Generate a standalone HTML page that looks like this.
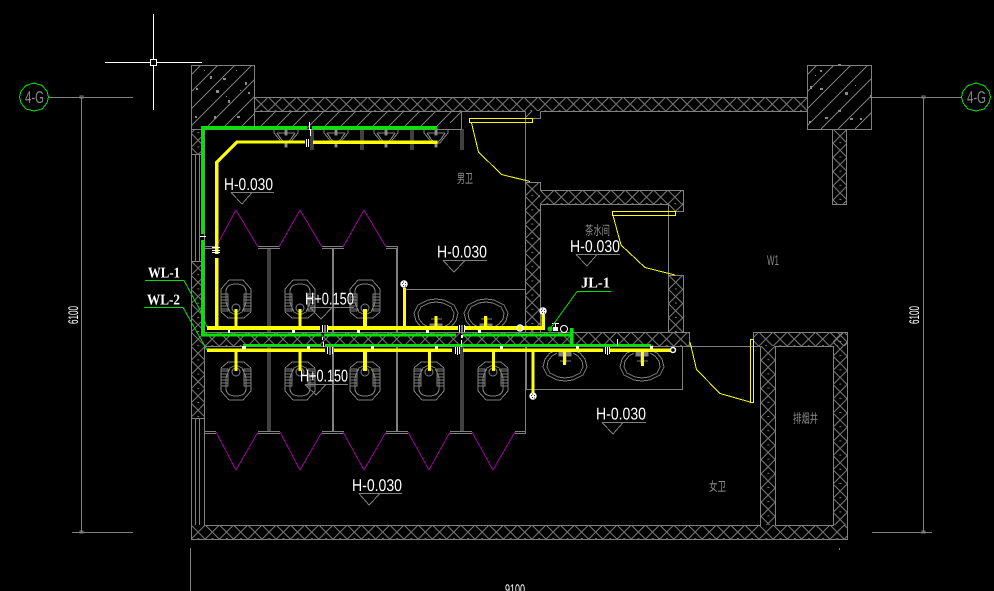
<!DOCTYPE html>
<html><head><meta charset="utf-8">
<style>
html,body{margin:0;padding:0;background:#000;width:994px;height:591px;overflow:hidden}
svg{display:block}
text{font-family:"Liberation Sans","Noto Sans CJK SC",sans-serif}
.w{fill:#fff;font-size:17px}
.b{fill:#fff;font-size:15px;font-weight:bold;font-family:"Liberation Serif","Noto Sans CJK SC",serif}
.c{fill:#8a8a8a;font-size:13px}
.g{stroke:#808080;fill:none;stroke-width:1}
.h{stroke:#7a7a7a;fill:none;stroke-width:1}
</style></head><body>
<svg width="994" height="591" viewBox="0 0 994 591" xmlns="http://www.w3.org/2000/svg" shape-rendering="crispEdges">
<defs>
<pattern id="x" width="14.2" height="14.2" patternUnits="userSpaceOnUse"><path class="h" d="M0 0L14.2 14.2M14.2 0L0 14.2"/><rect x="6.500" y="13" width="2" height="1.500" fill="#808080"/></pattern>
<pattern id="xa" href="#x" patternTransform="translate(254 97)"/>
<pattern id="xb" href="#x" patternTransform="translate(205 332)"/>
<pattern id="xc" href="#x" patternTransform="translate(191 525)"/>
<pattern id="xd" href="#x" patternTransform="translate(540 190)"/>
<pattern id="xe" href="#x" patternTransform="translate(191 261)"/>
<pattern id="xf" href="#x" patternTransform="translate(525 182)"/>
<pattern id="xg" href="#x" patternTransform="translate(668.5 190)"/>
<pattern id="xh" href="#x" patternTransform="translate(761 346)"/>
<pattern id="xi" href="#x" patternTransform="translate(833 129)"/>
<clipPath id="cl"><rect x="191" y="65" width="64" height="64"/></clipPath>
<clipPath id="cr"><rect x="807" y="65" width="65" height="64"/></clipPath>

<g id="pan" class="g">
<path d="M-7 -28L7 -28L15 -19L15 -14M-7 -28L-15 -19L-15 -14M15 4L8 10L-8 10L-15 4"/>
<path d="M-10 -5L-10 -16Q-10 -24 0 -24Q10 -24 10 -16L10 -5M-10 -5L-6 4L0 7L6 4L10 -5"/>
<path d="M-15 -14H-8V3H-15ZM8 -14H15V3H8ZM-15 -11H-8M-15 -8H-8M-15 -5H-8M-15 -2H-8M-15 1H-8M8 -11H15M8 -8H15M8 -5H15M8 -2H15M8 1H15"/>
<circle cx="0" cy="0" r="4" shape-rendering="auto"/>
</g>
<g id="sink" class="g">
<path d="M-8 0L-15 -3L-20 -9L-22 -17L-18 -25L-8 -30L0 -31L8 -30L18 -25L22 -17L20 -9L15 -3L8 0"/>
<path d="M-8 -3L-13 -6L-17 -11L-18 -17L-15 -23L-7 -27L0 -28L7 -27L15 -23L18 -17L17 -11L13 -6L8 -3"/>
<path d="M-6 -6H6V-1H-6Z" fill="#808080"/><path d="M-1 -13H1V-6H-1Z" fill="#808080"/><path d="M-5 -11H6"/>
</g>
<g id="usm" class="g">
<path d="M-12 0L-12 3L-7 9L-4 13L4 13L7 9L12 3L12 0M-9 3L-5 9L-2 12L2 12L5 9L9 3M-9 3H9"/>
<path d="M-1 -2H1V5H-1Z" fill="#999"/>
<rect x="-1" y="14" width="2" height="3" fill="#aaa"/>
</g>
<g id="ball"><circle r="3.7" fill="#fff" shape-rendering="auto"/><path d="M-2 -1h1v1h-1zM1 -1h1v1h-1zM-1 1h1v1h-1zM1 1.500h1v1h-1zM-1 -2.500h1v1h-1z" fill="#333"/></g>
</defs>

<rect width="994" height="591" fill="#000"/>

<!-- hatched walls -->
<rect x="254" y="97" width="553" height="14" fill="url(#xa)"/>
<rect x="205" y="332" width="485" height="14" fill="url(#xb)"/>
<rect x="191" y="525" width="656" height="14" fill="url(#xc)"/>
<rect x="753" y="332" width="94" height="14" fill="url(#xb)"/>
<rect x="540" y="190" width="143" height="14" fill="url(#xd)"/>
<rect x="191" y="129" width="14" height="25" fill="url(#xe)"/>
<rect x="191" y="261" width="14" height="157" fill="url(#xe)"/>
<rect x="525" y="182" width="15" height="150" fill="url(#xf)"/>
<rect x="668.500" y="204" width="14.500" height="7" fill="url(#xg)"/>
<rect x="668.500" y="275" width="14.500" height="57" fill="url(#xg)"/>
<rect x="761" y="346" width="14" height="179" fill="url(#xh)"/>
<rect x="833" y="332" width="14" height="193" fill="url(#xi)"/>
<rect x="833" y="129" width="14" height="75" fill="url(#xi)"/>
<!-- diagonal hatch -->
<path class="h" clip-path="url(#cl)" d="M137 129L201 65M154 129L218 65M171 129L235 65M188 129L252 65M205 129L269 65M222 129L286 65M239 129L303 65M256 129L320 65"/>
<path class="h" clip-path="url(#cr)" d="M753 129L817 65M770 129L834 65M787 129L851 65M804 129L868 65M821 129L885 65M838 129L902 65M855 129L919 65M872 129L936 65"/>
<path class="h" d="M258 129l18 -18M274 129l18 -18M290 129l18 -18M306 129l18 -18M322 129l18 -18M338 129l18 -18M354 129l18 -18M370 129l18 -18M386 129l18 -18M402 129l18 -18M418 129l18 -18M434 129l18 -18M450 123l12 -12M525 118l7 -7"/>
<path fill="#8a8a8a" d="M210 76h2v3h-2zM223 78h3v2h-3zM216 90h3v3h-3zM196 88h2v2h-2zM228 100h2v3h-2zM245 82h2v3h-2zM237 116h3v2h-3zM214 116h2v3h-2zM195 116h2v2h-2zM248 92h2v2h-2zM204 70h1v1h-1zM236 70h1v1h-1zM226 96h1v1h-1zM240 90h1v1h-1zM820 70h2v2h-2zM838 64h3v2h-3zM845 92h3v3h-3zM820 88h3v2h-3zM838 110h3v2h-3zM825 117h3v2h-3zM850 118h3v2h-3zM870 95h2v3h-2zM809 121h2v2h-2zM860 118h2v2h-2zM815 75h1v1h-1zM855 85h1v1h-1zM830 102h1v1h-1zM810 86h2v3h-2z"/>

<!-- wall outlines -->
<g class="g">
<path d="M191 65.500H254.500V129.500H191.500V65.500"/>
<path d="M807.500 65.500H871.500V129.500H807.500Z"/>
<path d="M254.500 97.500H807.500M254.500 111.500H525.500M540.500 111.500H807.500M525.500 118.500H540.500V111.500"/>
<path d="M204.500 129.500H461.500V111.500"/>
<path d="M191.500 129.500V539.500H847.500V332.500H753.500V346.500"/>
<path d="M195.500 154V261M199.500 154V261M204.500 129V332M191 154.500H204.500M191 261.500H204.500M191 418.500H204.500M195.500 418.500V525M199.500 418.500V525M204.500 346V525"/>
<path d="M204.500 525.500H760.500V346.500M775.500 346.500H833.500V525.500H775.500Z"/>
<path d="M525.500 111.500V332.500M525.500 182.500H540.500V190.500H683.500V211.500H668.500M540.500 204.500H668.500V332.500M540.500 204.500V332.500"/>
<path d="M668.500 275.500H683.500V332.500H689.500V346.500"/>
<path d="M205 332.500H690M205 346.500H760.500"/>
<path d="M525.500 346.500V389.500H682.500V346.500"/>
<path d="M832.500 129.500V204.500H846.500V129.500"/>
<path d="M404 289.500H525.500"/>
<!-- axes -->
<path d="M48 97.500H133M81.500 97.500V533M72 532.500H133M872 97.500H962M923.500 97.500V533M872 532.500H932M190.500 548V591M839.500 548V550"/>
<path d="M80 96h3v2h-3zM922 96h3v2h-3zM922 531h3v2h-3zM80 531h3v2h-3z"/>
</g>

<!-- partitions upper -->
<g class="g">
<path d="M204 246.500H216M204 248.500H216M258 246.500H280M258 248.500H280M322 246.500H344M322 248.500H344M386 246.500H398M386 248.500H396M397.500 246.500V332"/>
<path d="M268 248V332M270 248V332"/>
<path d="M333 248V332M397 248V332" stroke-width="2"/>
<!-- partitions lower -->
<path d="M268 346V432M270 346V432M461 346V432M463 346V432M525.500 389V433"/>
<path d="M333 346V432M397 346V432M526 346V389" stroke-width="2"/>
<path d="M205 431.500H216M205 433.500H216M258 431.500H280M258 433.500H280M322 431.500H344M322 433.500H344M386 431.500H408M386 433.500H408M450 431.500H472M450 433.500H472M515 431.500H526M515 433.500H526"/>
<!-- top stubs -->
<path d="M311 129V150M361 129V150M411 129V150M461 129V150M313 129V150M363 129V150M413 129V150M463 129V150"/>
</g>

<!-- purple -->
<path fill="none" stroke="#a000a0" stroke-width="1" d="M216 247L236 210L258 247M279 247L300 210L322 247M343 247L364 210L386 247M216 432L236 470L258 432M280 432L300 470L322 432M343 432L364 470L386 432M408 432L429 470L450 432M472 432L493 470L515 432"/>

<!-- fixtures -->
<use href="#pan" x="236" y="308"/><use href="#pan" x="300" y="308"/><use href="#pan" x="365" y="308"/>
<use href="#pan" transform="translate(236 372) scale(1 -1)"/><use href="#pan" transform="translate(300 372) scale(1 -1)"/><use href="#pan" transform="translate(365 372) scale(1 -1)"/><use href="#pan" transform="translate(429 372) scale(1 -1)"/><use href="#pan" transform="translate(493 372) scale(1 -1)"/>
<use href="#usm" x="286" y="130"/><use href="#usm" x="336" y="130"/><use href="#usm" x="386" y="130"/><use href="#usm" x="436" y="130"/>
<use href="#sink" x="436" y="330"/><use href="#sink" x="486" y="330"/>
<use href="#sink" transform="translate(565 350) scale(1 -1)"/><use href="#sink" transform="translate(642 350) scale(1 -1)"/>

<!-- green pipes -->
<g fill="#00e600">
<rect x="201" y="126" width="106" height="3.500"/><rect x="312" y="126" width="125" height="3.500"/>
<rect x="201" y="126" width="3.500" height="108"/><rect x="201" y="240" width="3.500" height="95"/>
<rect x="201" y="333.500" width="120" height="3"/><rect x="324" y="333.500" width="132" height="3"/><rect x="463" y="333.500" width="110" height="3"/>
<rect x="570" y="328" width="3.500" height="18"/>
<rect x="243" y="344" width="78" height="2.500"/><rect x="325" y="344" width="326" height="2.500"/>
</g>
<!-- yellow pipes -->
<g fill="#ffff00">
<path d="M215 254V162L236 140.500H305V143.500H237.500L218.500 163V254Z"/>
<rect x="313" y="140.500" width="124.500" height="3.500"/>
<rect x="215" y="258" width="3.500" height="70"/>
<rect x="207" y="326" width="113" height="4"/><rect x="328" y="326" width="130" height="4"/><rect x="464" y="326" width="81" height="4"/>
<rect x="207" y="348.500" width="118" height="3.500"/><rect x="334" y="348.500" width="118" height="3.500"/><rect x="463" y="348.500" width="140" height="3.500"/><rect x="610" y="348.500" width="61" height="3.500"/>
<rect x="234.500" y="309" width="3" height="18"/><rect x="298.500" y="309" width="3" height="18"/><rect x="363" y="309" width="4" height="18"/>
<rect x="403" y="288" width="3" height="39"/><rect x="541.500" y="314" width="3.500" height="14"/>
<rect x="434.500" y="316" width="3" height="11"/><rect x="484" y="316" width="3" height="11"/>
<rect x="234.500" y="351" width="3" height="20"/><rect x="298.500" y="351" width="3" height="20"/><rect x="363" y="351" width="4" height="20"/><rect x="428" y="351" width="3" height="20"/><rect x="492" y="351" width="3" height="20"/>
<rect x="531.500" y="351" width="3" height="42"/>
<rect x="563" y="352" width="3" height="13"/><rect x="641" y="352" width="3" height="14"/>
</g>

<!-- white marks -->
<g fill="#fff">
<rect x="228" y="330" width="2" height="3"/><rect x="292" y="330" width="3" height="3"/><rect x="357" y="330" width="3" height="3"/><rect x="426" y="330" width="3" height="3"/><rect x="478" y="330" width="3" height="3"/>
<rect x="242" y="346" width="4" height="3"/><rect x="307" y="346" width="3" height="3"/><rect x="371" y="346" width="3" height="3"/><rect x="435" y="346" width="3" height="3"/><rect x="500" y="346" width="3" height="3"/><rect x="576" y="346" width="3" height="3"/><rect x="650" y="346" width="3" height="3"/>
<path d="M322 325h1v7h-1zM324.500 325h1v7h-1zM327 325h1v7h-1zM459 325h1v7h-1zM461.500 325h1v7h-1zM464 325h1v7h-1zM327 347h1v7h-1zM329.500 347h1v8h-1zM332 347h1v7h-1zM455 347h1v7h-1zM457 347h1v8h-1zM459 347h1v7h-1zM605 347h1v7h-1zM607 347h1v8h-1zM609 347h1v7h-1zM306 139h1v8h-1zM308 139h1v8h-1zM309 122h1v8h-1zM310 129h1v7h-1z"/>
<path d="M322 337h1v3h-1zM323 342h1v5h-1zM461 335h2v3h-2zM461 340h1v7h-1zM617 339h1v7h-1zM212 247h8v1h-8zM212 250h8v1h-8zM212 252h8v1h-8zM200 236h6v1h-6z"/>
<rect x="553" y="327" width="5" height="4"/><rect x="552" y="323" width="7" height="1"/><rect x="555" y="323" width="1" height="5"/>
</g>
<g fill="none" stroke="#fff" stroke-width="1.500" shape-rendering="auto">
<circle cx="520" cy="328" r="3"/><circle cx="673" cy="350" r="2.500"/><circle cx="564" cy="329" r="3.500" stroke-width="1"/>
</g>
<use href="#ball" x="404" y="284"/><use href="#ball" x="543" y="311"/><use href="#ball" x="533" y="396"/>
<circle cx="550" cy="329" r="2.500" fill="#00c800"/>

<!-- door leaves -->
<g fill="none" stroke="#ffff00" stroke-width="1">
<path d="M469.500 118.500H532.500V122.500H469.500ZM471.500 123L478.500 152L501.500 174.500L530 181.500"/>
<path d="M612.500 211.500H675.500V215.500H612.500ZM613 215.500L621 245L645 267.500L675 275"/>
<path d="M750.500 339.500H753.500V402.500H750.500ZM690 342L696.500 369.500L720 393.500L750 402"/>
</g>

<!-- leaders -->
<g fill="none" stroke="#00e000" stroke-width="1">
<path d="M145 280.500H184L200 310L207 327"/>
<path d="M144 307.500H183L207 350"/>
<path d="M577 291.500H611M577 291.500L550 329"/>
</g>

<!-- level markers -->
<g class="g">
<path d="M231 192.500H274M231 192.500L242 204L252 192.500"/>
<path d="M443 260.500H487M443 260.500L454 272L465 260.500"/>
<path d="M576 254.500H620M576 254.500L587 266L597 254.500"/>
<path d="M602 422.500H646M602 422.500L613 434L623 422.500"/>
<path d="M359 493.500H402M359 493.500L369 505L380 493.500"/>
<path d="M310 307.500H354M310 307.500L321 319L332 307.500"/>
<path d="M305 384.500H348M305 384.500L316 395L326 384.500"/>
</g>

<!-- axis bubbles -->
<g fill="none" stroke="#00e600" stroke-width="1">
<path d="M34 83L42 85.500L47 91L48.500 97L47 103L42 109L34 111L26 109L21 103L19.500 97L21 91L26 85.500Z"/>
<path d="M976 83L984 85.500L989 91L990.500 97L989 103L984 109L976 111L968 109L963 103L961.500 97L963 91L968 85.500Z"/>
</g>

<!-- crosshair -->
<path fill="none" stroke="#fff" stroke-width="1" d="M105 62.500H202M153.500 14V110"/>
<rect x="150" y="59" width="7" height="7" fill="#000"/>
<path fill="none" stroke="#fff" stroke-width="1" d="M150.500 59.500H156.500V65.500H150.500Z"/>

<!-- text -->
<g text-rendering="geometricPrecision">
<text class="c" x="25" y="103" textLength="19" lengthAdjust="spacingAndGlyphs" style="font-size:17px">4-G</text>
<text class="c" x="967" y="103" textLength="19" lengthAdjust="spacingAndGlyphs" style="font-size:17px">4-G</text>
<text class="w" x="224" y="190" textLength="49" lengthAdjust="spacingAndGlyphs">H-0.030</text>
<text class="w" x="437" y="257.500" textLength="50" lengthAdjust="spacingAndGlyphs">H-0.030</text>
<text class="w" x="570" y="252" textLength="50" lengthAdjust="spacingAndGlyphs">H-0.030</text>
<text class="w" x="596" y="419.500" textLength="50" lengthAdjust="spacingAndGlyphs">H-0.030</text>
<text class="w" x="352" y="491" textLength="50" lengthAdjust="spacingAndGlyphs">H-0.030</text>
<text class="w" x="305" y="304.500" textLength="49" lengthAdjust="spacingAndGlyphs">H+0.150</text>
<text class="w" x="300" y="381.500" textLength="48" lengthAdjust="spacingAndGlyphs">H+0.150</text>
<text class="b" x="148" y="277.500" textLength="32" lengthAdjust="spacingAndGlyphs">WL-1</text>
<text class="b" x="147" y="304.500" textLength="33" lengthAdjust="spacingAndGlyphs">WL-2</text>
<text class="b" x="581" y="287.500" textLength="29" lengthAdjust="spacingAndGlyphs">JL-1</text>
<text class="c" x="457" y="183" textLength="16" lengthAdjust="spacingAndGlyphs">男卫</text>
<text class="c" x="585" y="235" textLength="25" lengthAdjust="spacingAndGlyphs">茶水间</text>
<text class="c" x="767" y="265" textLength="12" lengthAdjust="spacingAndGlyphs" style="font-size:14px">W1</text>
<text class="c" x="709" y="491" textLength="17" lengthAdjust="spacingAndGlyphs">女卫</text>
<text class="c" x="793" y="423" textLength="25" lengthAdjust="spacingAndGlyphs">排烟井</text>
<text fill="#fff" font-size="14" x="505" y="594" textLength="20" lengthAdjust="spacingAndGlyphs">9100</text>
<text fill="#fff" font-size="14" transform="translate(78 324) rotate(-90)" textLength="18" lengthAdjust="spacingAndGlyphs">6100</text>
<text fill="#fff" font-size="14" transform="translate(919 324) rotate(-90)" textLength="18" lengthAdjust="spacingAndGlyphs">6100</text>
</g>
</svg>
</body></html>
